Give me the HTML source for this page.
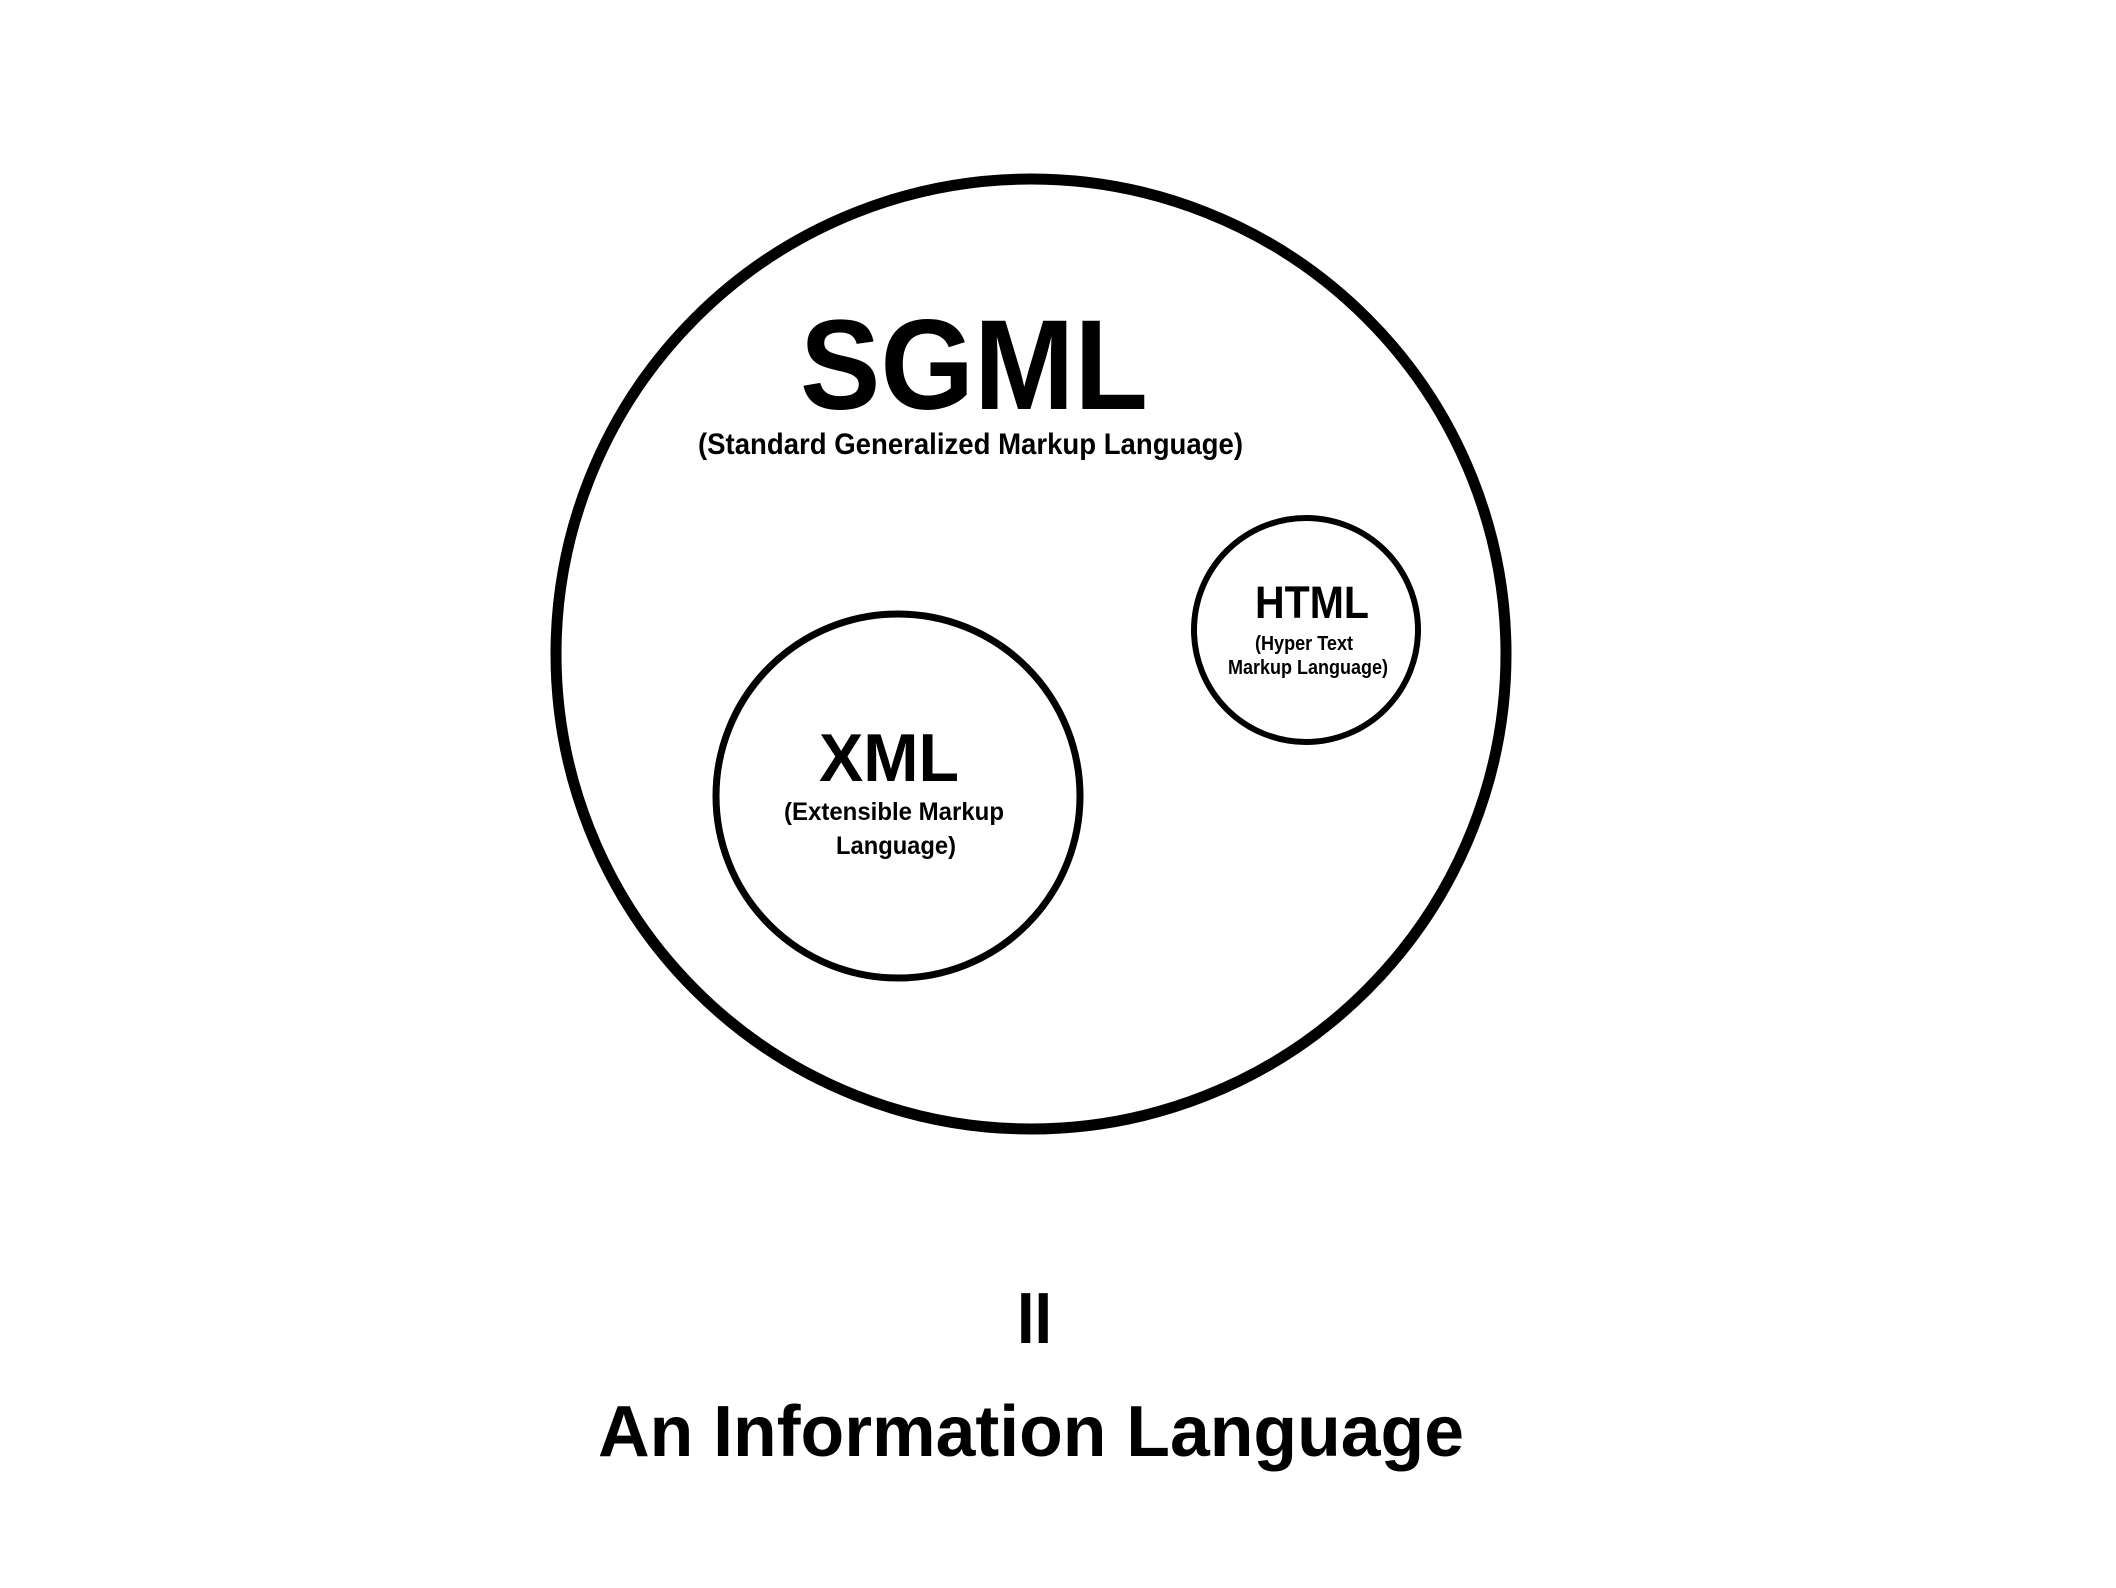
<!DOCTYPE html>
<html><head><meta charset="utf-8"><style>html,body{margin:0;padding:0;background:#fff}svg{display:block}</style></head>
<body>
<svg width="2116" height="1588" viewBox="0 0 2116 1588" xmlns="http://www.w3.org/2000/svg">
<g transform="translate(-12,-7)">
<g fill="none" stroke="#000">
<circle cx="1043" cy="661" r="475" stroke-width="11"/>
<circle cx="910" cy="803" r="182" stroke-width="7"/>
<circle cx="1318" cy="637" r="112" stroke-width="6"/>
</g>
<g font-family="'Liberation Sans Narrow','Liberation Sans',sans-serif" font-weight="bold" fill="#000">
<text x="812" y="416" font-size="128" textLength="348" lengthAdjust="spacingAndGlyphs">SGML</text>
<text x="710" y="461" font-size="30" textLength="545" lengthAdjust="spacingAndGlyphs">(Standard Generalized Markup Language)</text>
<text x="1267" y="625" font-size="45" textLength="114" lengthAdjust="spacingAndGlyphs">HTML</text>
<text x="1267" y="657" font-size="20" textLength="98" lengthAdjust="spacingAndGlyphs">(Hyper Text</text>
<text x="1240" y="681" font-size="20" textLength="160" lengthAdjust="spacingAndGlyphs">Markup Language)</text>
<text x="831" y="788" font-size="68" textLength="140" lengthAdjust="spacingAndGlyphs">XML</text>
<text x="796" y="827" font-size="25" textLength="220" lengthAdjust="spacingAndGlyphs">(Extensible Markup</text>
<text x="848" y="861" font-size="25" textLength="120" lengthAdjust="spacingAndGlyphs">Language)</text>
<text x="1029" y="1350" font-size="72" textLength="35" lengthAdjust="spacingAndGlyphs">II</text>
<text x="610" y="1463" font-size="72" textLength="866" lengthAdjust="spacingAndGlyphs">An Information Language</text>
</g>
</g>
</svg>
</body></html>
